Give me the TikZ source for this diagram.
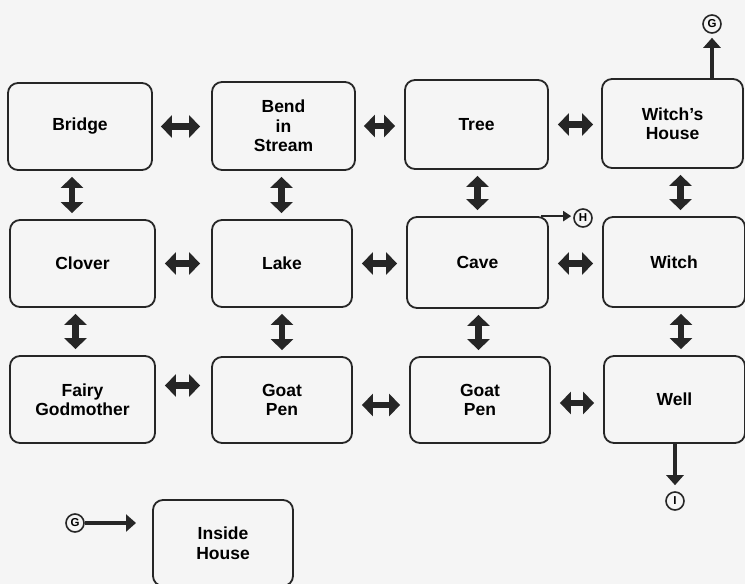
\documentclass[tikz,border=0pt]{standalone}
\usepackage{fontspec}
\setmainfont{Liberation Sans}
\usetikzlibrary{arrows.meta}
\tikzset{
  room/.style={draw=black!85, line width=1.8pt, rounded corners=10pt, fill=white!96!black,
    align=center, font=\fontsize{17.5}{19.5}\selectfont\bfseries, inner sep=0pt},
  dbl/.style={line width=6.5pt, black!85, {Triangle[length=11pt,width=22pt]}-{Triangle[length=11pt,width=22pt]}},
  exitarrow/.style={line width=3.5pt, black!85, -{Triangle[length=10pt,width=17pt]}},
  thinexit/.style={line width=2pt, black!85, -{Triangle[length=8pt,width=10pt]}},
  letter/.style={draw=black!85, circle, line width=1.6pt, minimum size=18pt, inner sep=0pt,
    font=\fontsize{11.5}{11.5}\selectfont\bfseries}
}
\begin{document}
\begin{tikzpicture}[x=1pt,y=-1pt]
\fill[white!96!black] (0,0) rectangle (745,584);
\useasboundingbox (0,0) rectangle (745,584);
% row 1
\node[room, minimum width=144pt, minimum height=87pt] (bridge) at (80,126.5) {Bridge};
\node[room, minimum width=143pt, minimum height=88pt] (bend) at (283.5,126) {Bend\\in\\Stream};
\node[room, minimum width=143pt, minimum height=89pt] (tree) at (476.5,124.5) {Tree};
\node[room, minimum width=141pt, minimum height=89pt] (wh) at (672.5,123.5) {Witch's\\House};
% row 2
\node[room, minimum width=145pt, minimum height=87pt] (clover) at (82.5,263.5) {Clover};
\node[room, minimum width=140pt, minimum height=87pt] (lake) at (282,263.5) {Lake};
\node[room, minimum width=141pt, minimum height=91pt] (cave) at (477.5,262.5) {Cave};
\node[room, minimum width=142pt, minimum height=90pt] (witch) at (674,262) {Witch};
% row 3
\node[room, minimum width=145pt, minimum height=87pt] (fairy) at (82.5,399.5) {Fairy\\Godmother};
\node[room, minimum width=140pt, minimum height=86pt] (goat1) at (282,400) {Goat\\Pen};
\node[room, minimum width=140pt, minimum height=86pt] (goat2) at (480,400) {Goat\\Pen};
\node[room, minimum width=141pt, minimum height=87pt] (well) at (674.5,399.5) {Well};
% inside house
\node[room, minimum width=140pt, minimum height=86pt] (inside) at (223,543) {Inside\\House};

% horizontal double arrows
\draw[dbl, shorten <=8pt, shorten >=11pt] (bridge.east) -- (bridge.east -| bend.west);
\draw[dbl, shorten <=8pt, shorten >=9pt] (bend.east) -- (bend.east -| tree.west);
\draw[dbl, shorten <=9pt, shorten >=8pt] (tree.east) -- (tree.east -| wh.west);
\draw[dbl, shorten <=9pt, shorten >=11pt] (clover.east) -- (clover.east -| lake.west);
\draw[dbl, shorten <=9pt, shorten >=9pt] (lake.east) -- (lake.east -| cave.west);
\draw[dbl, shorten <=9pt, shorten >=9pt] ([yshift=-1pt]cave.east) -- ([yshift=-1pt]cave.east -| witch.west);
\draw[dbl, shorten <=9pt, shorten >=11pt] ([yshift=14pt]fairy.east) -- ([yshift=14pt]fairy.east -| goat1.west);
\draw[dbl, shorten <=9pt, shorten >=9pt] ([yshift=-5pt]goat1.east) -- ([yshift=-5pt]goat1.east -| goat2.west);
\draw[dbl, shorten <=9pt, shorten >=9pt] ([yshift=-3pt]goat2.east) -- ([yshift=-3pt]goat2.east -| well.west);

% vertical double arrows
\draw[dbl, shorten <=6pt, shorten >=6pt] ([xshift=-8pt]bridge.south) -- ([xshift=-8pt]bridge.south |- clover.north);
\draw[dbl, shorten <=6pt, shorten >=6pt] ([xshift=-2pt]bend.south) -- ([xshift=-2pt]bend.south |- lake.north);
\draw[dbl, shorten <=6pt, shorten >=6pt] ([xshift=1pt]tree.south) -- ([xshift=1pt]tree.south |- cave.north);
\draw[dbl, shorten <=6pt, shorten >=6pt] ([xshift=8pt]wh.south) -- ([xshift=8pt]wh.south |- witch.north);
\draw[dbl, shorten <=6pt, shorten >=6pt] ([xshift=-7pt]clover.south) -- ([xshift=-7pt]clover.south |- fairy.north);
\draw[dbl, shorten <=6pt, shorten >=6pt] (lake.south) -- (lake.south |- goat1.north);
\draw[dbl, shorten <=6pt, shorten >=6pt] ([xshift=1pt]cave.south) -- ([xshift=1pt]cave.south |- goat2.north);
\draw[dbl, shorten <=6pt, shorten >=6pt] ([xshift=7pt]witch.south) -- ([xshift=7pt]witch.south |- well.north);

% exits
\node[letter] (gtop) at (712,24) {G};
\draw[exitarrow, shorten >=4pt] (wh.north -| gtop) -- (gtop.south);
\node[letter] (hc) at (583,218) {H};
\draw[thinexit, shorten >=2pt] ([xshift=-8pt]cave.north east) -- (cave.north east -| hc.west);
\node[letter] (ic) at (675,501) {I};
\draw[exitarrow, shorten >=6pt] (well.south -| ic) -- (ic.north);
\node[letter] (gl) at (75,523) {G};
\coordinate (gend) at (136,523);
\draw[exitarrow] (gl.east) -- (gend);
\end{tikzpicture}
\end{document}
